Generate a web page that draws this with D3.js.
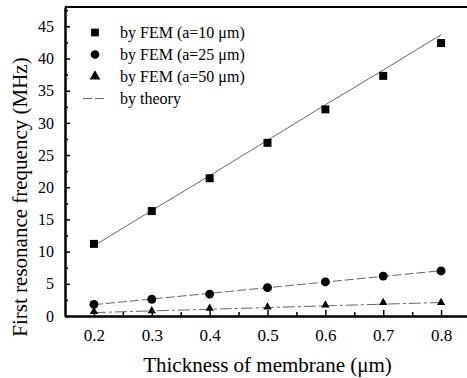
<!DOCTYPE html>
<html>
<head>
<meta charset="utf-8">
<script src="https://cdn.jsdelivr.net/npm/d3@7"></script>
<style>
  #chart text { font-family: "Liberation Serif"; }
</style>
</head>
<body style="margin:0;background:#fff">
<div id="wrap"></div>
<script>
// ---- data ----
const thickness = [0.2, 0.3, 0.4, 0.5, 0.6, 0.7, 0.8];
const femA10 = [11.2, 16.3, 21.4, 26.9, 32.1, 37.3, 42.4];
const femA25 = [1.8, 2.6, 3.4, 4.4, 5.3, 6.2, 7.0];
const femA50 = [0.7, 0.8, 1.2, 1.4, 1.7, 2.1, 2.1];
const theoryA10 = [10.9, 16.4, 21.8, 27.3, 32.8, 38.2, 43.7];
const theoryA25 = [1.76, 2.64, 3.52, 4.40, 5.28, 6.16, 7.04];
const theoryA50 = [0.53, 0.79, 1.05, 1.31, 1.58, 1.84, 2.10];
const xTicks = [0.2, 0.3, 0.4, 0.5, 0.6, 0.7, 0.8];
const xMinorTicks = [0.25, 0.35, 0.45, 0.55, 0.65, 0.75];
const yTicks = [0, 5, 10, 15, 20, 25, 30, 35, 40, 45];
const yMinorTicks = [2.5, 7.5, 12.5, 17.5, 22.5, 27.5, 32.5, 37.5, 42.5, 47.5];
const legendLabels = ["by FEM (a=10 \u03bcm)", "by FEM (a=25 \u03bcm)", "by FEM (a=50 \u03bcm)", "by theory"];
const xTitle = "Thickness of membrane (\u03bcm)";
const yTitle = "First resonance frequency (MHz)";

// ---- layout ----
const svg = d3.select("#wrap").append("svg").attr("id", "chart")
  .attr("width", 467).attr("height", 378).style("display", "block");
const fontF = "\"Liberation Serif\"";
const x = d3.scaleLinear().domain([0.15, 0.85]).range([65, 470]);
const y = d3.scaleLinear().domain([0, 48]).range([316, 7]);

svg.append("line").attr("x1", x(0.15)).attr("x2", x(0.85)).attr("y1", y(48)).attr("y2", y(48))
  .attr("stroke", "#000").attr("stroke-width", 2);

const xAxis = svg.append("g").attr("transform", `translate(0,${y(0)})`)
  .call(d3.axisBottom(x).tickValues(xTicks).tickSizeInner(-6).tickSizeOuter(0).tickPadding(13)
    .tickFormat(d3.format(".1f")));
const xMinor = svg.append("g").attr("transform", `translate(0,${y(0)})`)
  .call(d3.axisBottom(x).tickValues(xMinorTicks).tickSizeInner(-4).tickSizeOuter(0).tickFormat(""));
const yAxis = svg.append("g").attr("transform", `translate(${x(0.15)},0)`)
  .call(d3.axisLeft(y).tickValues(yTicks).tickSizeInner(-5).tickSizeOuter(0).tickPadding(11));
const yMinor = svg.append("g").attr("transform", `translate(${x(0.15)},0)`)
  .call(d3.axisLeft(y).tickValues(yMinorTicks).tickSizeInner(-3).tickSizeOuter(0).tickFormat(""));

[xAxis, xMinor, yAxis, yMinor].forEach(g => {
  g.attr("font-family", fontF).attr("font-size", 16);
  g.select(".domain").attr("stroke", "#000").attr("stroke-width", 2);
  g.selectAll(".tick line").attr("stroke", "#000").attr("stroke-width", 1.5);
});
xAxis.selectAll(".tick text").style("font-family", fontF).style("font-size", "17px").attr("fill", "#000");
yAxis.selectAll(".tick text").style("font-family", fontF).style("font-size", "16px").attr("fill", "#000");

svg.append("text").attr("x", (142 + 393) / 2).attr("y", 372).attr("text-anchor", "middle")
  .style("font-family", fontF).style("font-size", "21px").attr("fill", "#000").text(xTitle);
svg.append("text").attr("transform", `translate(27,197) rotate(-90)`).attr("text-anchor", "middle")
  .style("font-family", fontF).style("font-size", "21px").attr("fill", "#000").text(yTitle);

const line = d3.line().x((d, i) => x(thickness[i])).y(d => y(d));
const theoryStyles = [
  { data: theoryA10, dash: null },
  { data: theoryA25, dash: "9,3" },
  { data: theoryA50, dash: "12,3,3,3" }
];
theoryStyles.forEach(s => {
  svg.append("path").datum(s.data).attr("d", line).attr("fill", "none")
    .attr("stroke", "#555").attr("stroke-width", 0.9)
    .attr("stroke-dasharray", s.dash);
});

const sym = {
  square: d3.symbol().type(d3.symbolSquare).size(64),
  circle: d3.symbol().type(d3.symbolCircle).size(62),
  triangle: d3.symbol().type(d3.symbolTriangle).size(30)
};
function drawMarkers(vals, gen) {
  svg.append("g").selectAll("path").data(vals).join("path")
    .attr("transform", (d, i) => `translate(${x(thickness[i])},${y(d)})`)
    .attr("d", gen).attr("fill", "#000");
}
drawMarkers(femA10, sym.square);
drawMarkers(femA25, sym.circle);
drawMarkers(femA50, sym.triangle);

const legX = 95, legTextX = 120;
const legY = [32.5, 54.5, 76.5, 98.5];
const legGens = [
  d3.symbol().type(d3.symbolSquare).size(60),
  d3.symbol().type(d3.symbolCircle).size(60),
  d3.symbol().type(d3.symbolTriangle).size(50)
];
legGens.forEach((g, i) => {
  svg.append("path").attr("transform", `translate(${legX},${legY[i]})`).attr("d", g).attr("fill", "#000");
});
svg.append("line").attr("x1", 83).attr("x2", 107).attr("y1", legY[3]).attr("y2", legY[3])
  .attr("stroke", "#555").attr("stroke-width", 0.9).attr("stroke-dasharray", "9,3");
legendLabels.forEach((t, i) => {
  svg.append("text").attr("x", legTextX).attr("y", legY[i] + 5)
    .style("font-family", fontF).style("font-size", "16px").attr("fill", "#000").text(t);
});
</script>
</body>
</html>
